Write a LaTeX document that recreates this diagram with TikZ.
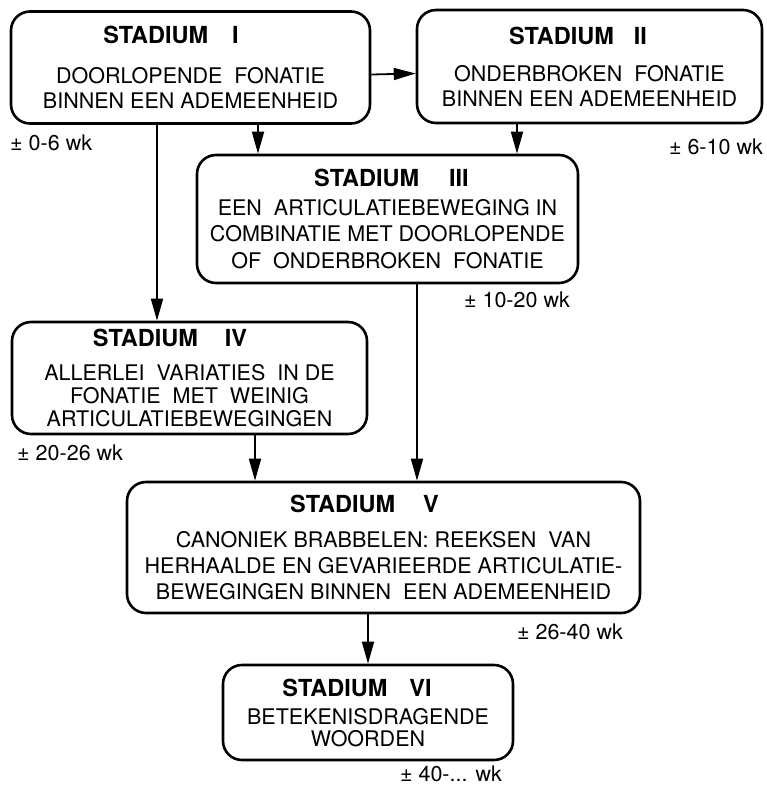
\documentclass[tikz,border=0pt]{standalone}
\usepackage{fontspec}
\setmainfont{TeX Gyre Heros}
\usetikzlibrary{arrows.meta}
\newcommand\bodyfont{\fontsize{21.5}{25}\selectfont}
\newcommand\headfont{\fontsize{23.5}{25}\selectfont\bfseries}
\newcommand\stadhead[2]{{\headfont STADIUM\hspace{#1}#2}}
\begin{document}
\begin{tikzpicture}[x=1pt,y=-1pt,
  stage/.style={draw, line width=2.6pt, rounded corners=19pt, inner sep=0pt, align=center, font=\bodyfont},
  conn/.style={line width=1.8pt, -{Triangle[length=22pt,width=12pt]}},
  wk/.style={font=\bodyfont, inner sep=0pt}]
\path[fill=white, use as bounding box] (0,0) rectangle (767,787);

\node[stage, minimum width=359pt, minimum height=112pt] (s1) at (190.5,67.5)
  {\stadhead{24pt}{I}\hspace*{39pt}\\[15pt] DOORLOPENDE\ \ FONATIE\\ BINNEN EEN ADEMEENHEID};
\node[stage, minimum width=345pt, minimum height=113pt] (s2) at (589.5,66.5)
  {\stadhead{20pt}{II}\hspace*{23pt}\\[12pt] ONDERBROKEN\ \ FONATIE\\ BINNEN EEN ADEMEENHEID};
\node[stage, minimum width=381pt, minimum height=128pt] (s3) at (387.5,219)
  {\hspace*{8pt}\stadhead{30pt}{III}\\[4pt] EEN\ \ ARTICULATIEBEWEGING IN\\[1pt] COMBINATIE MET DOORLOPENDE\\[1.5pt] OF\ \ ONDERBROKEN\ \ FONATIE};
\node[stage, minimum width=355pt, minimum height=112pt] (s4) at (189.5,378)
  {\stadhead{27pt}{IV}\hspace*{39pt}\\[9pt] ALLERLEI\ \ VARIATIES\ \ IN DE\\[-2pt] FONATIE\ \ MET\ \ WEINIG\hspace*{14pt}\\[-2pt] ARTICULATIEBEWEGINGEN};
\node[stage, minimum width=513pt, minimum height=131pt] (s5) at (383.5,547.5)
  {\stadhead{28pt}{V}\hspace*{38pt}\\[10pt] CANONIEK BRABBELEN: REEKSEN\ \ VAN\\[1pt] HERHAALDE EN GEVARIEERDE ARTICULATIE-\\[1pt] BEWEGINGEN BINNEN\ \ EEN ADEMEENHEID};
\node[stage, minimum width=290pt, minimum height=95pt] (s6) at (368,712.5)
  {\stadhead{22pt}{VI}\hspace*{22pt}\\[3pt] BETEKENISDRAGENDE\\[-3pt] WOORDEN};

\node[wk, anchor=west] (l1) at (10,143) {± 0-6 wk};
\node[wk, anchor=east] (l2) at (763,147) {± 6-10 wk};
\node[wk, anchor=east] (l3) at (570,300) {± 10-20 wk};
\node[wk, anchor=west] (l4) at (17,453) {± 20-26 wk};
\node[wk, anchor=east] (l5) at (623,632) {± 26-40 wk};
\node[wk, anchor=east] (l6) at (502,774) {± 40-... wk};

\draw[conn] ([yshift=-7pt]s1.east) -- ([yshift=-7pt]s2.west);
\draw[conn] ([xshift=67.5pt]s1.south) -- ([xshift=67.5pt]s1.south |- s3.north);
\draw[conn] ([xshift=-72.5pt]s2.south) -- ([xshift=-72.5pt]s2.south |- s3.north);
\draw[conn] ([xshift=-33.5pt]s1.south) -- ([xshift=-33.5pt]s1.south |- s4.north);
\draw[conn] ([xshift=29.5pt]s3.south) -- ([xshift=29.5pt]s3.south |- s5.north);
\draw[conn] ([xshift=65.5pt]s4.south) -- ([xshift=65.5pt]s4.south |- s5.north);
\draw[conn] ([xshift=-15.5pt]s5.south) -- (s6.north);
\end{tikzpicture}
\end{document}
